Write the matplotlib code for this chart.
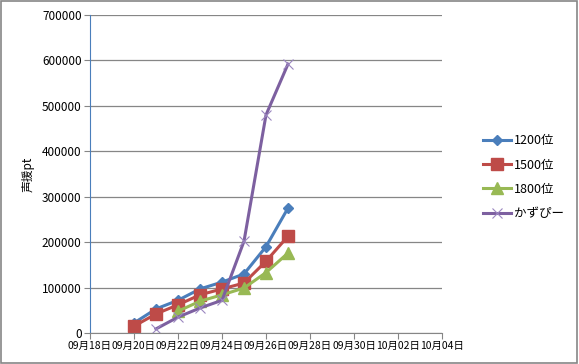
import matplotlib
matplotlib.use("Agg")
import matplotlib.pyplot as plt
import matplotlib.dates as mdates
import datetime as dt

plt.rcParams['font.family'] = ['Noto Sans CJK JP', 'DejaVu Sans']

# 日付 (9/20 - 9/27)
days = [dt.date(2013, 9, d) for d in range(20, 28)]
rank1200 = [22000, 53000, 72000, 97000, 112000, 130000, 190000, 275000]
rank1500 = [15000, 42000, 62000, 84000, 97000, 110000, 158000, 213000]
days1800 = days[2:]
rank1800 = [48000, 70000, 84000, 99000, 133000, 176000]
days_kazu = days[1:]
kazusupi = [9000, 35000, 55000, 72000, 202000, 480000, 592000]

xticks = [dt.date(2013, 9, 18) + dt.timedelta(days=2 * i) for i in range(9)]
yticks = list(range(0, 700001, 100000))

fig = plt.figure(figsize=(5.79, 3.64), dpi=100)
ax = fig.add_axes([90 / 579, 31 / 364, 352 / 579, 318 / 364])

ax.plot(days, rank1200, color='#4A7EBB', lw=2.2, marker='D', ms=5.5, label='1200位')
ax.plot(days, rank1500, color='#BE4B48', lw=2.2, marker='s', ms=8.5, label='1500位')
ax.plot(days1800, rank1800, color='#98B954', lw=2.2, marker='^', ms=8, label='1800位')
ax.plot(days_kazu, kazusupi, color='#7D60A0', lw=2.2, marker='x', ms=7, mew=0.8,
        mec='#9B86C0', label='かずぴー')

ax.set_xlim(xticks[0], xticks[-1])
ax.set_ylim(0, 700000)
ax.set_xticks(xticks)
ax.xaxis.set_major_formatter(mdates.DateFormatter('%m月%d日'))
ax.set_yticks(yticks)
ax.yaxis.grid(True, color='#868686', lw=0.9)
ax.set_axisbelow(True)

for s in ['top', 'right']:
    ax.spines[s].set_visible(False)
ax.spines['left'].set_color('#4A7EBB')
ax.spines['bottom'].set_color('#868686')
ax.tick_params(axis='x', direction='out', length=4, color='#868686', labelsize=7.5, pad=2)
ax.tick_params(axis='y', direction='out', length=4, color='#868686', labelsize=8.5, pad=2)

ax.set_ylabel('声援pt', fontsize=8.5, labelpad=5)

ax.legend(loc='center left', bbox_to_anchor=(388 / 352, 0.49), frameon=False,
          fontsize=9, handlelength=2.2, handletextpad=0.25, labelspacing=0.9, borderaxespad=0)

fig.patches.append(plt.Rectangle((0.002, 0.003), 0.995, 0.994, transform=fig.transFigure,
                                 fill=False, edgecolor='#868686', lw=1.2))

fig.savefig('out.png', dpi=100)
